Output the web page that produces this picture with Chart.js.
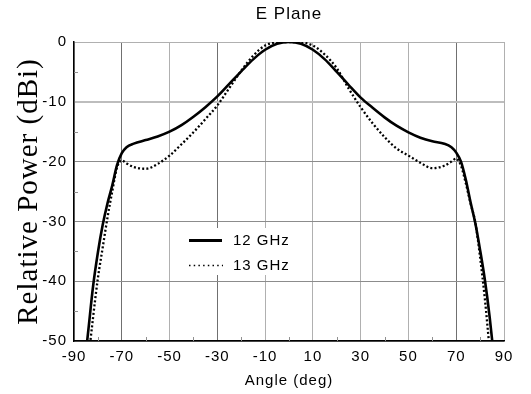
<!DOCTYPE html>
<html>
<head>
<meta charset="utf-8">
<script src="https://cdn.jsdelivr.net/npm/chart.js@4.4.1/dist/chart.umd.min.js"></script>
<style>
  html, body { margin: 0; padding: 0; background: #ffffff; }
  #wrap { position: relative; width: 531px; height: 394px; }
</style>
</head>
<body>
<div id="wrap"><canvas id="pattern-chart"></canvas></div>
<script>
const angles = [
  -86, -84, -82, -80, -78, -76, -74, -72, -70, -68,
  -65, -60, -55, -50, -45, -40, -35, -30, -25, -20, -15, -10, -5,
  0, 5, 10, 15, 20, 25, 30, 35, 40, 45, 50, 55, 60, 65,
  68, 70, 72, 74, 76, 78, 80, 82, 84, 86,
];

const power12 = [
  -55.5, -48.2, -40.8, -35.2, -30.6, -27.0, -24.0, -20.6, -18.6, -17.6,
  -17.0, -16.4, -15.8, -15.0, -13.9, -12.5, -10.9, -9.1, -7.0, -4.9, -2.9, -1.3, -0.3,
  0, -0.3, -1.3, -2.9, -5.0, -7.2, -9.3, -11.0, -12.6, -14.0, -15.1, -16.0, -16.6, -17.0,
  -17.6, -18.5, -20.0, -23.0, -26.8, -30.3, -34.8, -39.8, -46.0, -53.5,
];

const power13 = [
  -61, -53.2, -46.0, -39.5, -34.4, -29.4, -25.0, -21.0, -19.8, -20.3,
  -20.9, -21.2, -20.4, -19.0, -17.1, -15.1, -12.9, -10.6, -7.7, -4.8, -2.3, -0.6, -0.05,
  0, -0.05, -0.6, -2.1, -4.4, -7.8, -10.9, -13.6, -15.9, -17.8, -19.0, -20.2, -21.1, -20.7,
  -20.0, -19.5, -20.7, -23.6, -27.0, -30.2, -36.0, -43.0, -51.5, -60,
];

const seriesNames = ["12 GHz", "13 GHz"];
const xMinor = [-80, -60, -40, -20, 0, 20, 40, 60, 80];
const yMinor = [-45, -35, -25, -15, -5];
const darkX = [-70, -30, 70];

const toPoints = (values) => values.map((v, i) => ({ x: angles[i], y: v }));

Chart.defaults.font.family = '"Liberation Sans", Arial, sans-serif';
Chart.defaults.font.size = 15;
Chart.defaults.color = "#000000";

// the original text is a bit wider than plain Arial
const spacing = {
  id: "spacing",
  beforeUpdate(chart) {
    chart.ctx.letterSpacing = "1px";
  },
  beforeDraw(chart) {
    chart.ctx.letterSpacing = "1px";
  },
};

const extras = {
  id: "extras",
  beforeDatasetsDraw(chart) {
    const { ctx, chartArea, scales } = chart;
    ctx.save();

    // small tick marks between the grid lines
    ctx.strokeStyle = "#909090";
    ctx.lineWidth = 1;
    xMinor.forEach((v) => {
      const px = Math.round(scales.x.getPixelForValue(v)) + 0.5;
      ctx.beginPath();
      ctx.moveTo(px, chartArea.bottom);
      ctx.lineTo(px, chartArea.bottom - 4);
      ctx.stroke();
    });
    yMinor.forEach((v) => {
      const py = Math.round(scales.y.getPixelForValue(v)) + 0.5;
      ctx.beginPath();
      ctx.moveTo(chartArea.left, py);
      ctx.lineTo(chartArea.left + 4, py);
      ctx.stroke();
    });

    // legend box inside the plot
    ctx.fillStyle = "#ffffff";
    ctx.fillRect(176, 228, 124, 47);
    ctx.strokeStyle = "#000000";
    ctx.lineWidth = 3;
    ctx.beginPath();
    ctx.moveTo(189, 240.5);
    ctx.lineTo(222, 240.5);
    ctx.stroke();
    ctx.lineWidth = 1.5;
    ctx.setLineDash([1.5, 3.2]);
    ctx.beginPath();
    ctx.moveTo(189, 265.5);
    ctx.lineTo(223, 265.5);
    ctx.stroke();
    ctx.setLineDash([]);
    ctx.fillStyle = "#000000";
    ctx.font = '15px "Liberation Sans", Arial, sans-serif';
    ctx.textAlign = "left";
    ctx.textBaseline = "middle";
    ctx.fillText(seriesNames[0], 233, 241);
    ctx.fillText(seriesNames[1], 233, 266);
    ctx.restore();
  },
  afterDraw(chart) {
    const { ctx, chartArea } = chart;
    ctx.save();
    ctx.fillStyle = "#000000";
    ctx.font = '17px "Liberation Sans", Arial, sans-serif';
    ctx.textAlign = "center";
    ctx.textBaseline = "middle";
    ctx.fillText("E Plane", (chartArea.left + chartArea.right) / 2, 14);
    ctx.restore();
  },
};

new Chart(document.getElementById("pattern-chart"), {
  type: "line",
  data: {
    datasets: [
      {
        label: seriesNames[0],
        data: toPoints(power12),
        borderColor: "#000000",
        borderWidth: 2.6,
        pointRadius: 0,
        cubicInterpolationMode: "monotone",
        clip: 0,
      },
      {
        label: seriesNames[1],
        data: toPoints(power13),
        borderColor: "#000000",
        borderWidth: 2.3,
        borderDash: [2, 2.2],
        pointRadius: 0,
        cubicInterpolationMode: "monotone",
        clip: 0,
      },
    ],
  },
  options: {
    responsive: true,
    maintainAspectRatio: false,
    animation: false,
    layout: { padding: { top: 42, right: 27, left: 0, bottom: 0 } },
    plugins: {
      legend: { display: false },
      title: { display: false },
      tooltip: { enabled: false },
    },
    scales: {
      x: {
        type: "linear",
        min: -90,
        max: 90,
        ticks: { stepSize: 20, padding: 7, maxRotation: 0, autoSkip: false },
        grid: {
          drawTicks: false,
          color: (c) => (darkX.includes(c.tick.value) ? "#707070" : "#b0b0b0"),
        },
        border: { color: "#000000", width: 1.5 },
        title: { display: true, text: "Angle (deg)", padding: { top: 0, bottom: 4 } },
        afterFit: (scale) => {
          scale.height = 53;
        },
      },
      y: {
        min: -50,
        max: 0,
        ticks: { stepSize: 10, padding: 7 },
        grid: {
          drawTicks: false,
          color: (c) => (c.tick.value === -10 ? "#bdbdbd" : c.tick.value === 0 ? "#b0b0b0" : "#8c8c8c"),
          lineWidth: (c) => (c.tick.value === -10 ? 2 : 1),
        },
        border: { color: "#000000", width: 1.5 },
        title: {
          display: true,
          text: "Relative Power (dBi)",
          font: { family: '"Liberation Serif", "Times New Roman", serif', size: 29 },
          padding: { top: 12, bottom: 0 },
        },
        afterFit: (scale) => {
          scale.width = 74;
        },
      },
    },
  },
  plugins: [spacing, extras],
});
</script>
</body>
</html>
